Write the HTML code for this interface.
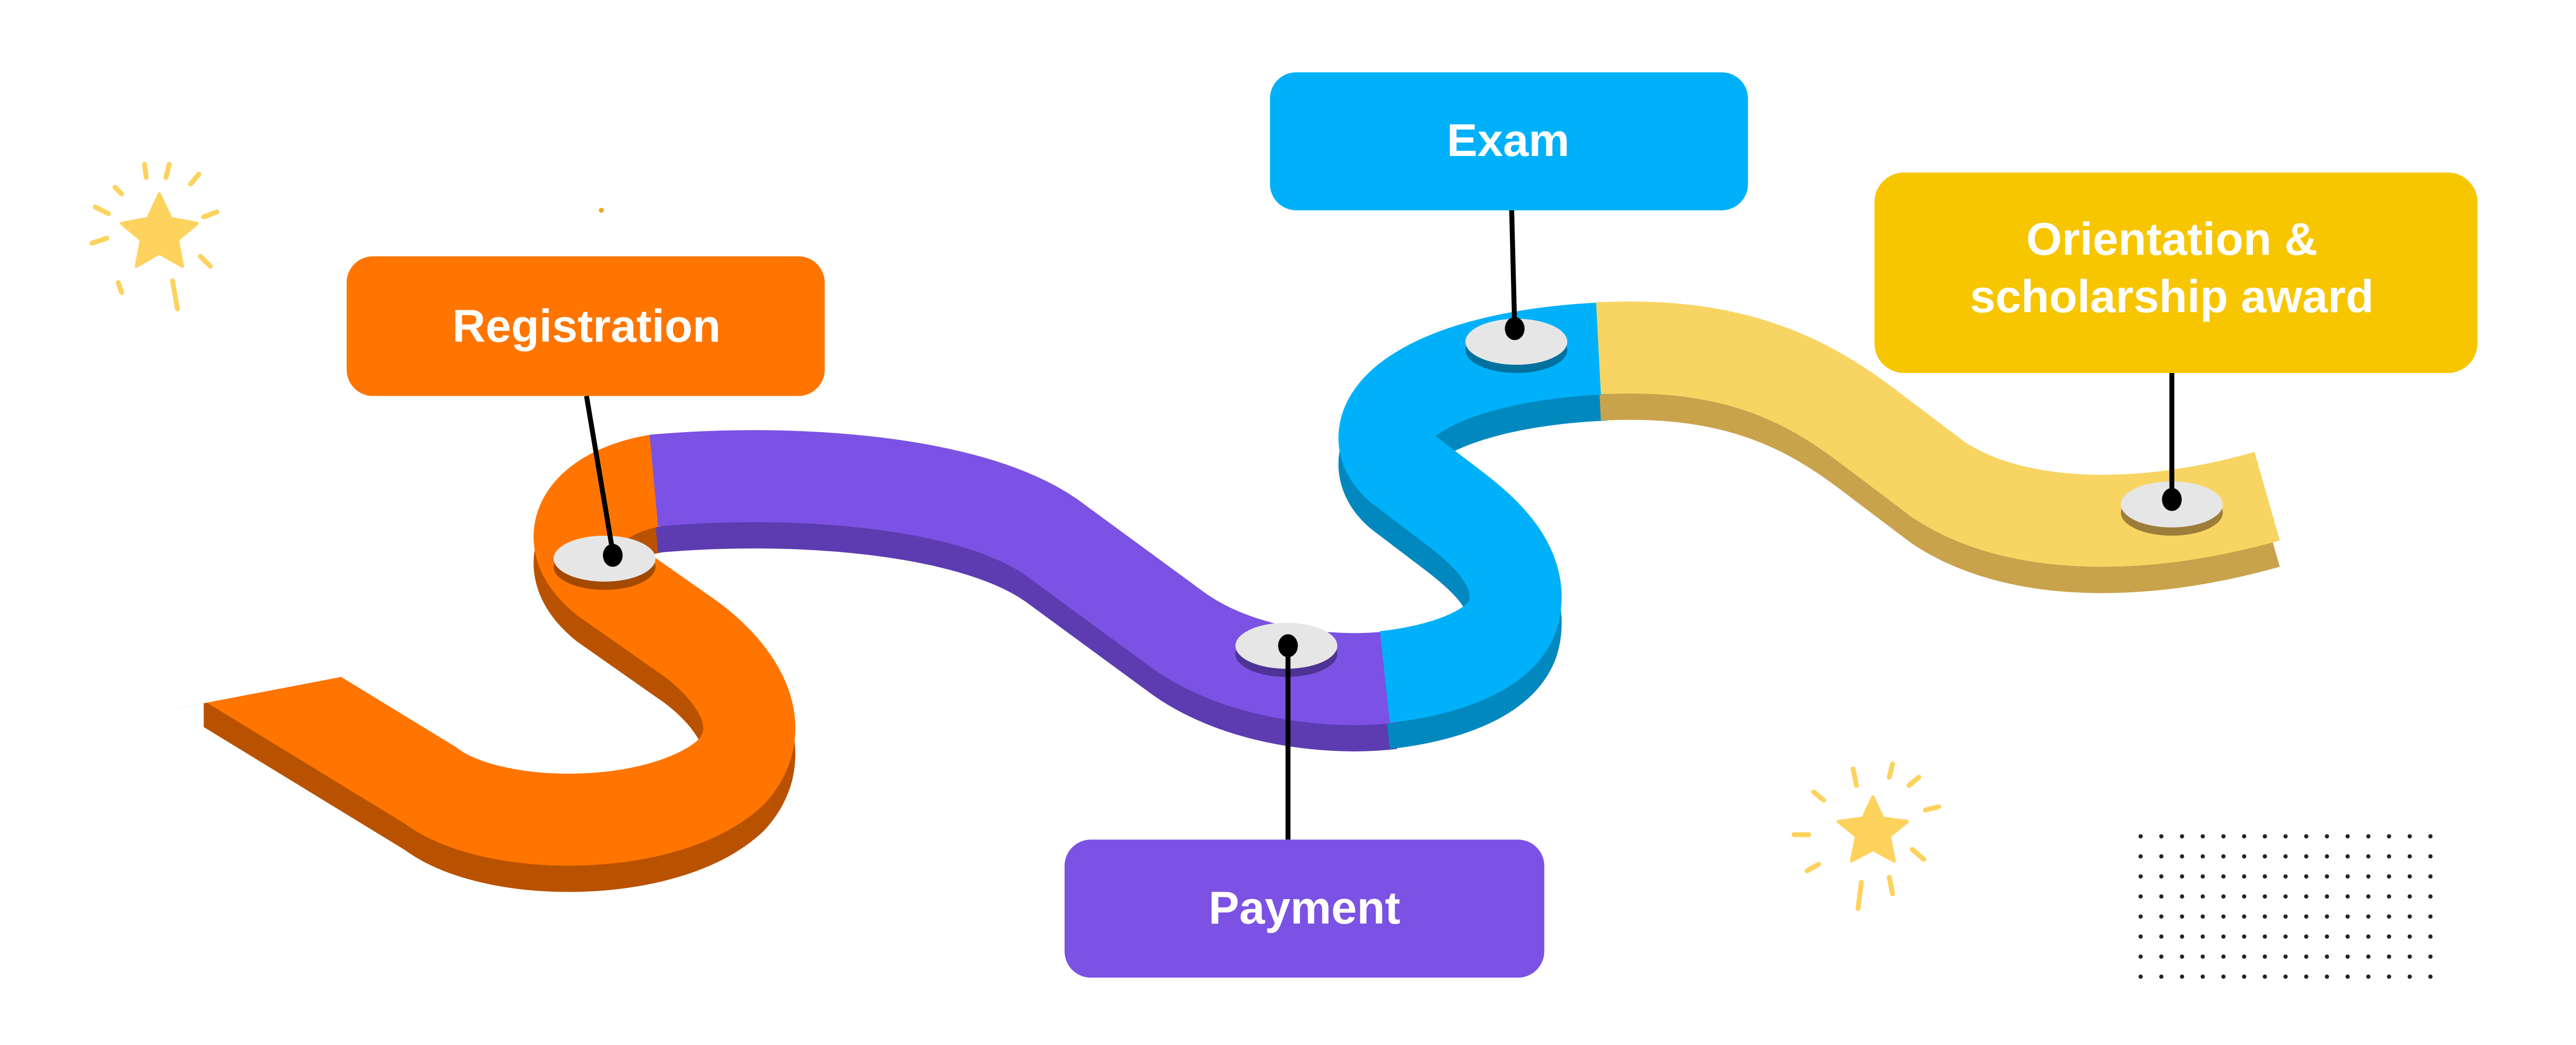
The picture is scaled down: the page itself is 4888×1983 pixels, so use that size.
<!DOCTYPE html>
<html><head><meta charset="utf-8"><style>
html,body{margin:0;padding:0;background:#fff;width:4888px;height:1983px;overflow:hidden}
svg{display:block}
text{font-family:"Liberation Sans",sans-serif;font-weight:bold;fill:#fff}
</style></head><body>
<svg width="4888" height="1983" viewBox="0 0 1568 636" preserveAspectRatio="none" xmlns="http://www.w3.org/2000/svg">
<rect width="1568" height="636" fill="#fff"/>
<!-- side thickness -->
<g fill="none" stroke-width="56" stroke-linecap="butt" stroke-linejoin="round" transform="translate(0,16)">
<path d="M100,379 L262,478 C300,507 405,507 445,470 C472,440 445,405 415,385 L368,352 C335,325 360,298 402,292" stroke="#B85200"/>
<path d="M398,292.5 C480,285 590,292 640,327 L715,382 C755,412 815,416 847,412" stroke="#5C3CB0"/>
<path d="M843,412 C880,408 918,395 922,370 C927,340 897,318 877,303 L852,284 C822,258 865,217 977,212" stroke="#0088BF"/>
<path d="M973,212 C1050,208 1095,228 1135,258 L1180,292 C1230,325 1310,322 1380,302" stroke="#C9A24C"/>
</g>
<!-- top surfaces -->
<g fill="none" stroke-width="56" stroke-linecap="butt" stroke-linejoin="round">
<path d="M100,379 L262,478 C300,507 405,507 445,470 C472,440 445,405 415,385 L368,352 C335,325 360,298 402,292" stroke="#FF7500"/>
<path d="M398,292.5 C480,285 590,292 640,327 L715,382 C755,412 815,416 847,412" stroke="#7B52E3"/>
<path d="M843,412 C880,408 918,395 922,370 C927,340 897,318 877,303 L852,284 C822,258 865,217 977,212" stroke="#00B1F9"/>
<path d="M973,212 C1050,208 1095,228 1135,258 L1180,292 C1230,325 1310,322 1380,302" stroke="#F8D462"/>
</g>
<!-- slanted left end -->
<polygon points="40,300 232,300 232,407 218,410 124,428 40,444" fill="#fff"/>
<polygon points="40,444 124,428 124,520 40,520" fill="#fff"/>
<!-- discs -->
<g>
<ellipse cx="368" cy="345" rx="31" ry="14" fill="#A34A00"/>
<ellipse cx="368" cy="340" rx="31" ry="14" fill="#E6E6E6"/>
<ellipse cx="783" cy="398" rx="31" ry="14" fill="#4E3396"/>
<ellipse cx="783" cy="393" rx="31" ry="14" fill="#E6E6E6"/>
<ellipse cx="923" cy="213" rx="31" ry="14" fill="#00719E"/>
<ellipse cx="923" cy="208" rx="31" ry="14" fill="#E6E6E6"/>
<ellipse cx="1322" cy="312" rx="31" ry="14" fill="#9C7E3A"/>
<ellipse cx="1322" cy="307" rx="31" ry="14" fill="#E6E6E6"/>
</g>
<!-- connectors -->
<g stroke="#000" stroke-width="3">
<line x1="357" y1="241" x2="373" y2="336"/>
<line x1="920" y1="122" x2="922" y2="200"/>
<line x1="784" y1="393" x2="784" y2="511"/>
<line x1="1322" y1="227" x2="1322" y2="304"/>
</g>
<g fill="#000">
<ellipse cx="373" cy="338" rx="6" ry="7"/>
<ellipse cx="784" cy="393" rx="6" ry="7"/>
<ellipse cx="922" cy="200" rx="6" ry="7"/>
<ellipse cx="1322" cy="304" rx="6" ry="7"/>
</g>
<!-- boxes -->
<rect x="211" y="156" width="291" height="85" rx="16" fill="#FF7500"/>
<text x="357" y="208" font-size="28" text-anchor="middle">Registration</text>
<rect x="773" y="44" width="291" height="84" rx="16" fill="#00B1F9"/>
<text x="918" y="95" font-size="28" text-anchor="middle">Exam</text>
<rect x="1141" y="105" width="367" height="122" rx="18" fill="#F7C600"/>
<text x="1322" y="155" font-size="28" text-anchor="middle">Orientation &amp;</text>
<text x="1322" y="190" font-size="28" text-anchor="middle">scholarship award</text>
<rect x="648" y="511" width="292" height="84" rx="16" fill="#7B52E3"/>
<text x="794" y="562" font-size="28" text-anchor="middle">Payment</text>
<!-- stars -->
<g fill="#FDD35E" stroke="#FDD35E" stroke-linecap="round">
<path d="M97,118 L104,133 L120,136 L108,146 L111,162 L97,154 L83,162 L86,146 L74,136 L90,133 Z" stroke-width="2" stroke-linejoin="round"/>
<g stroke-width="3" fill="none">
<line x1="88" y1="100" x2="89" y2="108"/><line x1="103" y1="100" x2="101" y2="108"/>
<line x1="116" y1="112" x2="121" y2="106"/><line x1="124" y1="132" x2="132" y2="129"/>
<line x1="122" y1="156" x2="128" y2="162"/><line x1="105" y1="171" x2="108" y2="188"/>
<line x1="72" y1="172" x2="74" y2="178"/><line x1="56" y1="148" x2="65" y2="145"/>
<line x1="58" y1="126" x2="66" y2="130"/><line x1="70" y1="114" x2="74" y2="118"/>
</g>
<path d="M1140,485 L1146,498 L1161,500 L1150,509 L1153,524 L1140,517 L1127,524 L1130,509 L1119,500 L1134,498 Z" stroke-width="2" stroke-linejoin="round"/>
<g stroke-width="3" fill="none">
<line x1="1128" y1="468" x2="1130" y2="478"/><line x1="1152" y1="465" x2="1150" y2="473"/>
<line x1="1162" y1="478" x2="1168" y2="473"/><line x1="1172" y1="493" x2="1180" y2="491"/>
<line x1="1164" y1="517" x2="1171" y2="523"/><line x1="1150" y1="534" x2="1152" y2="544"/>
<line x1="1133" y1="537" x2="1131" y2="553"/><line x1="1100" y1="530" x2="1107" y2="526"/>
<line x1="1092" y1="508" x2="1101" y2="508"/><line x1="1104" y1="482" x2="1110" y2="487"/>
</g>
</g>
<circle cx="366" cy="128" r="1.5" fill="#F5A623"/>
<!-- dot grid -->
<defs><pattern id="dots" x="1301" y="507" width="12.6" height="12.2" patternUnits="userSpaceOnUse"><circle cx="2" cy="2" r="1.3" fill="#222"/></pattern></defs>
<rect x="1301" y="507" width="182" height="93" fill="url(#dots)"/>
</svg>
</body></html>
